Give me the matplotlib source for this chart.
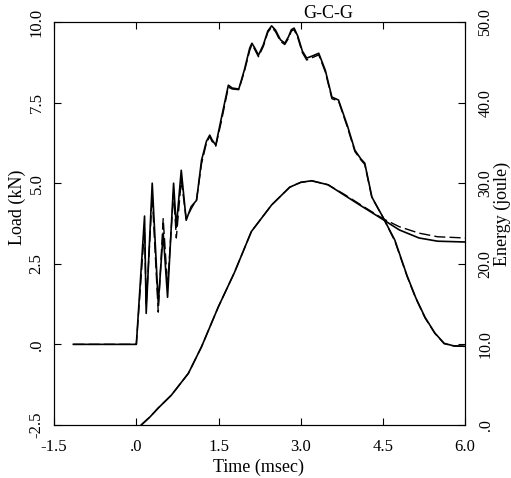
import numpy as np
import matplotlib.pyplot as plt

plt.rcParams['font.family'] = ['Liberation Serif', 'DejaVu Serif']

# load curves (kN)
t_load = [-1.15, 0.0, 0.15, 0.18, 0.29, 0.40, 0.49, 0.57, 0.68, 0.73, 0.82, 0.91,
          1.0, 1.10, 1.19, 1.28, 1.34, 1.38, 1.45, 1.55, 1.68, 1.75, 1.87, 1.97,
          2.07, 2.11, 2.16, 2.23, 2.32, 2.40, 2.47, 2.54, 2.63, 2.71, 2.78, 2.83,
          2.88, 2.95, 3.03, 3.11, 3.22, 3.33, 3.45, 3.57, 3.69, 3.85, 3.99, 4.10,
          4.17, 4.30, 4.50, 4.72, 4.94, 5.10, 5.27, 5.45, 5.62, 5.80, 6.0]
load_a = [0, 0, 3.98, 0.96, 5.0, 1.27, 3.45, 1.46, 5.0, 3.63, 5.4, 3.85,
          4.27, 4.47, 5.71, 6.3, 6.49, 6.35, 6.18, 7.0, 8.04, 7.95, 7.92, 8.5,
          9.19, 9.34, 9.2, 8.97, 9.3, 9.72, 9.88, 9.75, 9.45, 9.34, 9.55, 9.76,
          9.81, 9.55, 9.1, 8.88, 8.95, 9.03, 8.5, 7.67, 7.58, 6.8, 6.02, 5.75,
          5.62, 4.57, 3.95, 3.23, 2.14, 1.45, 0.84, 0.35, 0.03, -0.05, -0.06]
load_b = [0, 0, 3.6, 1.2, 4.6, 1.0, 3.9, 1.8, 4.7, 3.3, 5.1, 3.9,
          4.2, 4.5, 5.6, 6.25, 6.45, 6.3, 6.15, 6.9, 7.98, 7.92, 7.9, 8.45,
          9.12, 9.3, 9.15, 8.92, 9.25, 9.68, 9.84, 9.7, 9.4, 9.3, 9.5, 9.72,
          9.76, 9.5, 9.05, 8.82, 8.9, 8.98, 8.45, 7.62, 7.55, 6.75, 5.98, 5.72,
          5.58, 4.55, 3.95, 3.2, 2.12, 1.43, 0.82, 0.34, 0.02, -0.05, -0.06]

# energy curves (joule)
t_en = [0.09, 0.25, 0.40, 0.64, 0.95, 1.19, 1.5, 1.79, 2.10, 2.47, 2.80, 3.0,
        3.2, 3.5, 3.8, 4.1, 4.5, 4.8, 5.16, 5.5, 6.0]
energy_a = [0, 1.0, 2.1, 3.7, 6.4, 9.7, 14.7, 18.9, 24.0, 27.3, 29.5, 30.1,
            30.3, 29.8, 28.5, 27.2, 25.5, 24.2, 23.2, 22.8, 22.7]
energy_b = [0, 1.0, 2.1, 3.7, 6.4, 9.7, 14.7, 18.9, 24.0, 27.3, 29.5, 30.1,
            30.3, 29.8, 28.6, 27.3, 25.6, 24.6, 23.8, 23.35, 23.2]

fig = plt.figure(figsize=(5.11, 4.78), dpi=100)
ax = fig.add_axes([0.106, 0.111, 0.804, 0.843])
ax2 = ax.twinx()

ax.plot(t_load, load_a, color='black', lw=1.2)
ax.plot(t_load, load_b, color='black', lw=1.0, ls=(0, (8, 3)))
ax2.plot(t_en, energy_a, color='black', lw=1.2)
ax2.plot(t_en, energy_b, color='black', lw=1.0, ls=(0, (8, 3)))

ax.set_xlim(-1.5, 6.0)
ax.set_ylim(-2.5, 10.0)
ax2.set_ylim(0, 50.0)

ax.set_xticks([-1.5, 0, 1.5, 3.0, 4.5, 6.0])
ax.set_xticklabels(['-1.5', '.0', '1.5', '3.0', '4.5', '6.0'])
ax.set_yticks([-2.5, 0, 2.5, 5.0, 7.5, 10.0])
ax.set_yticklabels(['-2.5', '.0', '2.5', '5.0', '7.5', '10.0'], rotation=90, va='center')
ax2.set_yticks([0, 10, 20, 30, 40, 50])
ax2.set_yticklabels(['.0', '10.0', '20.0', '30.0', '40.0', '50.0'], rotation=90, va='center')

ax.tick_params(axis='x', direction='in', length=5, labelsize=12, top=True, pad=10)
ax.tick_params(axis='y', direction='in', length=5, labelsize=12, pad=7)
ax2.tick_params(direction='in', length=5, labelsize=11.5, pad=9)

fig.text(0.505, 0.023, 'Time (msec)', fontsize=13, ha='center', va='center')
fig.text(0.033, 0.567, 'Load (kN)', fontsize=13, ha='center', va='center', rotation=90)
fig.text(0.984, 0.552, 'Energy (joule)', fontsize=13, ha='center', va='center', rotation=90)
fig.text(0.642, 0.972, 'G-C-G', fontsize=13, ha='center', va='center')

fig.savefig('out.png', dpi=100)
